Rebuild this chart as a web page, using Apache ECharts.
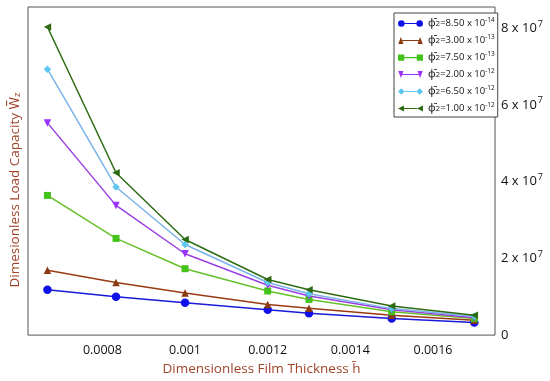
<!DOCTYPE html>
<html>
<head>
<meta charset="utf-8">
<script src="https://cdn.jsdelivr.net/npm/echarts@6/dist/echarts.min.js"></script>
<style>html,body{margin:0;padding:0;background:#fff}#c{width:550px;height:381px}</style>
</head>
<body>
<div id="c"></div>
<script>
// Film thickness values (x)
const filmThickness = [0.000667, 0.000833, 0.001, 0.0012, 0.0013, 0.0015, 0.0017];
// Load capacity series (y), units of 1e7
const wz_850e14 = [1.18, 1.00, 0.84, 0.66, 0.57, 0.43, 0.33];
const wz_300e13 = [1.69, 1.37, 1.10, 0.80, 0.70, 0.52, 0.39];
const wz_750e13 = [3.64, 2.52, 1.73, 1.15, 0.93, 0.61, 0.43];
const wz_200e12 = [5.53, 3.38, 2.12, 1.30, 1.02, 0.66, 0.45];
const wz_650e12 = [6.93, 3.86, 2.36, 1.37, 1.08, 0.69, 0.49];
const wz_100e12 = [8.03, 4.23, 2.49, 1.45, 1.18, 0.76, 0.52];
const phiMantissa = ['8.50', '3.00', '7.50', '2.00', '6.50', '1.00'];
const phiExponent = ['-14', '-13', '-13', '-12', '-12', '-12'];
const xTickLabels = [0.0008, 0.001, 0.0012, 0.0014, 0.0016];
const yTickLabels = [0, 2e7, 4e7, 6e7, 8e7];

const seriesValues = [wz_850e14, wz_300e13, wz_750e13, wz_200e12, wz_650e12, wz_100e12];
const lineColors = ['#1a1ad8', '#9a3a12', '#66c02a', '#9a40e0', '#7ab2ea', '#2d6b12'];
const markColors = ['#1010e8', '#8b3a0f', '#44c21a', '#9933ff', '#5cc8f2', '#2d6b12'];
const symbols = ['circle', 'triangle', 'rect', 'triangle', 'diamond', 'triangle'];
const rotations = [0, 0, 0, 180, 0, 90];
const sizes = [8.5, 7.5, 7, 7.5, 7.5, 7.5];
const legendIcons = [
  'path://M0,5a4,4 0 1,0 8,0a4,4 0 1,0 -8,0zM8,4.3h14v1.4h-14zM22,5a4,4 0 1,0 8,0a4,4 0 1,0 -8,0z',
  'path://M1,9L4,1L7,9zM5.5,4.3h19v1.4h-19zM23,9L26,1L29,9z',
  'path://M1,1.5h7v7h-7zM8,4.3h14v1.4h-14zM22,1.5h7v7h-7z',
  'path://M1,1L7,1L4,9zM5.5,4.3h19v1.4h-19zM23,1L29,1L26,9z',
  'path://M4,1L8,5L4,9L0,5zM8,4.3h14v1.4h-14zM26,1L30,5L26,9L22,5z',
  'path://M0,5L7,1.5L7,8.5zM7,4.3h15v1.4h-15zM22,5L29,1.5L29,8.5z'
];
const names = phiMantissa.map((m, i) => 'ϕ2=' + m + ' x 10^' + phiExponent[i]);

const font = '"Open Sans", "Noto Sans", sans-serif';

const chart = echarts.init(document.getElementById('c'), null, {renderer: 'canvas'});
chart.setOption({
  animation: false,
  backgroundColor: '#fff',
  grid: {left: 28, right: 55, top: 7, bottom: 45, show: true, borderColor: '#555', borderWidth: 1},
  xAxis: {
    type: 'value', min: 0.00062, max: 0.00175,
    name: 'Dimensionless Film Thickness h\u0304', nameLocation: 'middle', nameGap: 24,
    nameTextStyle: {color: '#a0442a', fontSize: 13.5, fontFamily: font},
    axisLine: {show: false}, axisTick: {show: false}, splitLine: {show: false},
    axisLabel: {
      customValues: xTickLabels, color: '#111', fontSize: 12.5, fontFamily: font, margin: 9,
      formatter: v => String(Number(v.toFixed(5)))
    }
  },
  yAxis: {
    type: 'value', position: 'right', min: 0, max: 8.55e7,
    axisLine: {show: false}, axisTick: {show: false}, splitLine: {show: false},
    axisLabel: {
      customValues: yTickLabels, margin: 6, color: '#111', fontFamily: font,
      formatter: v => v === 0 ? '{a|0}' : '{a|' + Math.round(v / 1e7) + ' x 10}{s|7}',
      rich: {
        a: {fontSize: 13, fontFamily: font, color: '#111'},
        s: {fontSize: 9, fontFamily: font, color: '#111', padding: [0, 0, 8, 1]}
      }
    }
  },
  legend: {
    orient: 'vertical', left: 394, top: 13,
    backgroundColor: '#fff', borderColor: '#444', borderWidth: 1,
    padding: [4, 3, 3, 4], itemGap: 5, itemWidth: 25, itemHeight: 7,
    data: names.map((n, i) => ({name: n, icon: legendIcons[i]})),
    formatter: n => {
      const i = names.indexOf(n);
      return '{p|ϕ\u0304}{b|2}{t|=' + phiMantissa[i] + ' x 10}{e|' + phiExponent[i] + '}';
    },
    textStyle: {
      fontFamily: font, fontSize: 9.5, color: '#111',
      rich: {
        p: {fontSize: 10.5, fontFamily: font, color: '#111'},
        b: {fontSize: 8, fontFamily: font, color: '#111'},
        t: {fontSize: 9.5, fontFamily: font, color: '#111'},
        e: {fontSize: 6.5, fontFamily: font, color: '#111', padding: [0, 0, 6, 0]}
      }
    }
  },
  graphic: [{
    type: 'text', x: 15, y: 190, rotation: Math.PI / 2,
    style: {
      text: '{t|Dimesionless Load Capacity W\u0305}{z|z}',
      align: 'center', verticalAlign: 'middle',
      rich: {
        t: {fontSize: 13.5, fontFamily: font, fill: '#a0442a'},
        z: {fontSize: 9.5, fontFamily: font, fill: '#a0442a', padding: [5, 0, 0, 0]}
      }
    }
  }],
  series: seriesValues.map((vals, i) => ({
    name: names[i], type: 'line',
    data: vals.map((v, j) => [filmThickness[j], v * 1e7]),
    symbol: symbols[i], symbolRotate: rotations[i], symbolSize: sizes[i],
    lineStyle: {color: lineColors[i], width: 1.5},
    itemStyle: {color: markColors[i]},
    z: 2 + i
  }))
});
</script>
</body>
</html>
